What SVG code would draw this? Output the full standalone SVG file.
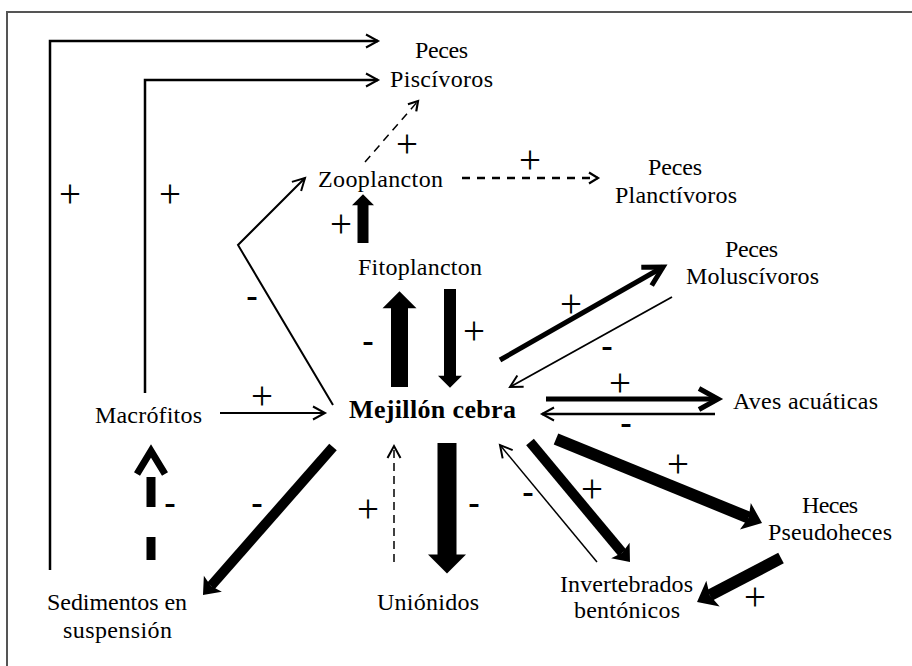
<svg xmlns="http://www.w3.org/2000/svg" width="912" height="666" viewBox="0 0 912 666">
<style>
.t{font-family:"Liberation Serif","Times New Roman",serif;font-size:24px;fill:#000;text-anchor:middle}
.b{font-weight:bold;font-size:26px}
.p{font-family:"Liberation Serif","Times New Roman",serif;font-size:39px;fill:#000;text-anchor:middle}
.m{font-family:"Liberation Sans",Arial,sans-serif;font-size:36px;fill:#000;text-anchor:middle}
.ln{fill:none;stroke:#000;stroke-linecap:butt;stroke-linejoin:miter}
</style>
<defs>
<marker id="op" markerUnits="userSpaceOnUse" viewBox="-16 -10 18 20" markerWidth="18" markerHeight="20" refX="0" refY="0" orient="auto" overflow="visible"><path d="M-12,-6.5 L0,0 L-12,6.5" fill="none" stroke="#000" stroke-width="2"/></marker>
<marker id="ops" markerUnits="userSpaceOnUse" viewBox="-12 -8 14 16" markerWidth="14" markerHeight="16" refX="0" refY="0" orient="auto" overflow="visible"><path d="M-9,-5.5 L0,0 L-9,5.5" fill="none" stroke="#000" stroke-width="2.2"/></marker>
<marker id="opb" markerUnits="userSpaceOnUse" viewBox="-24 -14 26 28" markerWidth="26" markerHeight="28" refX="0" refY="0" orient="auto" overflow="visible"><path d="M-19,-10.5 L0,0 L-19,10.5" fill="none" stroke="#000" stroke-width="5"/></marker>
<marker id="blk" markerUnits="strokeWidth" viewBox="0 -1 1 2" markerWidth="1" markerHeight="2" refX="0.02" refY="0" orient="auto" overflow="visible"><path d="M0,-1 L1,0 L0,1 z" fill="#000"/></marker>
<marker id="stl" markerUnits="strokeWidth" viewBox="0 -1.2 1.5 2.4" markerWidth="1.5" markerHeight="2.4" refX="0.3" refY="0" orient="auto" overflow="visible"><path d="M0,-1.2 L1.5,0 L0,1.2 L0.3,0 z" fill="#000"/></marker>
</defs>
<rect width="912" height="666" fill="#fff"/>
<path d="M7,666 V12 H912" fill="none" stroke="#555" stroke-width="2"/>

<g id="connectors">
<path class="ln" d="M50,570 V41 H378" stroke-width="2.5" marker-end="url(#op)"/>
<path class="ln" d="M145,393 V80 H378" stroke-width="2.5" marker-end="url(#op)"/>
<path class="ln" d="M365,162 L418,101" stroke-width="1.5" stroke-dasharray="8 6" marker-end="url(#ops)"/>
<path class="ln" d="M462,178 H598" stroke-width="2.5" stroke-dasharray="8 7" marker-end="url(#ops)"/>
<path class="ln" d="M333,405 L238,245 L305,178" stroke-width="2" marker-end="url(#op)"/>
<path class="ln" d="M363,243 V205" stroke-width="11" marker-end="url(#blk)"/>
<path class="ln" d="M399.5,387 V308" stroke-width="17" marker-end="url(#blk)"/>
<path class="ln" d="M450,289 V376" stroke-width="12" marker-end="url(#blk)"/>
<path class="ln" d="M447,443 V555" stroke-width="19" marker-end="url(#blk)"/>
<path class="ln" d="M500,360 L663,267" stroke-width="5" marker-end="url(#opb)"/>
<path class="ln" d="M672,297 L510,387" stroke-width="1.8" marker-end="url(#op)"/>
<path class="ln" d="M546,399 H718" stroke-width="5" marker-end="url(#opb)"/>
<path class="ln" d="M715,414 H542" stroke-width="2.5" marker-end="url(#op)"/>
<path class="ln" d="M220,413 H325" stroke-width="2" marker-end="url(#op)"/>
<path class="ln" d="M151,560 V537 M151,507 V477" stroke-width="9"/>
<path class="ln" d="M137,474 L151,451 L165,474" stroke-width="7"/>
<path class="ln" d="M333,447 L210.9,586" stroke-width="10" marker-end="url(#stl)"/>
<path class="ln" d="M394,562 V446" stroke-width="1.5" stroke-dasharray="8 5" marker-end="url(#op)"/>
<path class="ln" d="M597,562 L500,445" stroke-width="1.5" marker-end="url(#op)"/>
<path class="ln" d="M530,442 L622.3,552.8" stroke-width="10" marker-end="url(#stl)"/>
<path class="ln" d="M556,439 L748.7,517.6" stroke-width="12" marker-end="url(#stl)"/>
<path class="ln" d="M781,558 L709.8,595.3" stroke-width="12" marker-end="url(#stl)"/>
</g>

<g id="signs">
<text class="p" x="70" y="207">+</text>
<text class="p" x="170" y="207">+</text>
<text class="p" x="407" y="157">+</text>
<text class="p" x="341" y="237">+</text>
<text class="p" x="530" y="173">+</text>
<text class="p" x="474" y="344">+</text>
<text class="p" x="571" y="317">+</text>
<text class="p" x="620" y="396">+</text>
<text class="p" x="262" y="409">+</text>
<text class="p" x="368" y="522">+</text>
<text class="p" x="592" y="502">+</text>
<text class="p" x="678" y="477">+</text>
<text class="p" x="755" y="610">+</text>
<text class="m" x="252" y="308">-</text>
<text class="m" x="368" y="353">-</text>
<text class="m" x="607" y="358">-</text>
<text class="m" x="626" y="435">-</text>
<text class="m" x="170" y="515">-</text>
<text class="m" x="257" y="515">-</text>
<text class="m" x="474" y="515">-</text>
<text class="m" x="528" y="504">-</text>
</g>

<g id="peces-piscivoros">
<text class="t" x="441.5" y="58" textLength="53" lengthAdjust="spacing">Peces</text>
<text class="t" x="441.5" y="87" textLength="103" lengthAdjust="spacing">Piscívoros</text>
</g>
<g id="zooplancton">
<text class="t" x="380.5" y="187" textLength="125" lengthAdjust="spacing">Zooplancton</text>
</g>
<g id="peces-planctivoros">
<text class="t" x="675" y="175" textLength="54" lengthAdjust="spacing">Peces</text>
<text class="t" x="676" y="203" textLength="122" lengthAdjust="spacing">Planctívoros</text>
</g>
<g id="fitoplancton">
<text class="t" x="420" y="275" textLength="124" lengthAdjust="spacing">Fitoplancton</text>
</g>
<g id="peces-moluscivoros">
<text class="t" x="751.5" y="257" textLength="53" lengthAdjust="spacing">Peces</text>
<text class="t" x="752.5" y="284" textLength="133" lengthAdjust="spacing">Moluscívoros</text>
</g>
<g id="macrofitos">
<text class="t" x="148.5" y="423" textLength="107" lengthAdjust="spacing">Macrófitos</text>
</g>
<g id="mejillon-cebra">
<text class="t b" x="432.5" y="418" textLength="167" lengthAdjust="spacing">Mejillón cebra</text>
</g>
<g id="aves-acuaticas">
<text class="t" x="805.5" y="409" textLength="145" lengthAdjust="spacing">Aves acuáticas</text>
</g>
<g id="heces-pseudoheces">
<text class="t" x="830" y="513" textLength="56" lengthAdjust="spacing">Heces</text>
<text class="t" x="830" y="540" textLength="124" lengthAdjust="spacing">Pseudoheces</text>
</g>
<g id="invertebrados-bentonicos">
<text class="t" x="626.5" y="592" textLength="133" lengthAdjust="spacing">Invertebrados</text>
<text class="t" x="627" y="618" textLength="106" lengthAdjust="spacing">bentónicos</text>
</g>
<g id="sedimentos">
<text class="t" x="117" y="610" textLength="140" lengthAdjust="spacing">Sedimentos en</text>
<text class="t" x="117.5" y="638" textLength="109" lengthAdjust="spacing">suspensión</text>
</g>
<g id="unionidos">
<text class="t" x="428" y="610" textLength="102" lengthAdjust="spacing">Uniónidos</text>
</g>
</svg>
